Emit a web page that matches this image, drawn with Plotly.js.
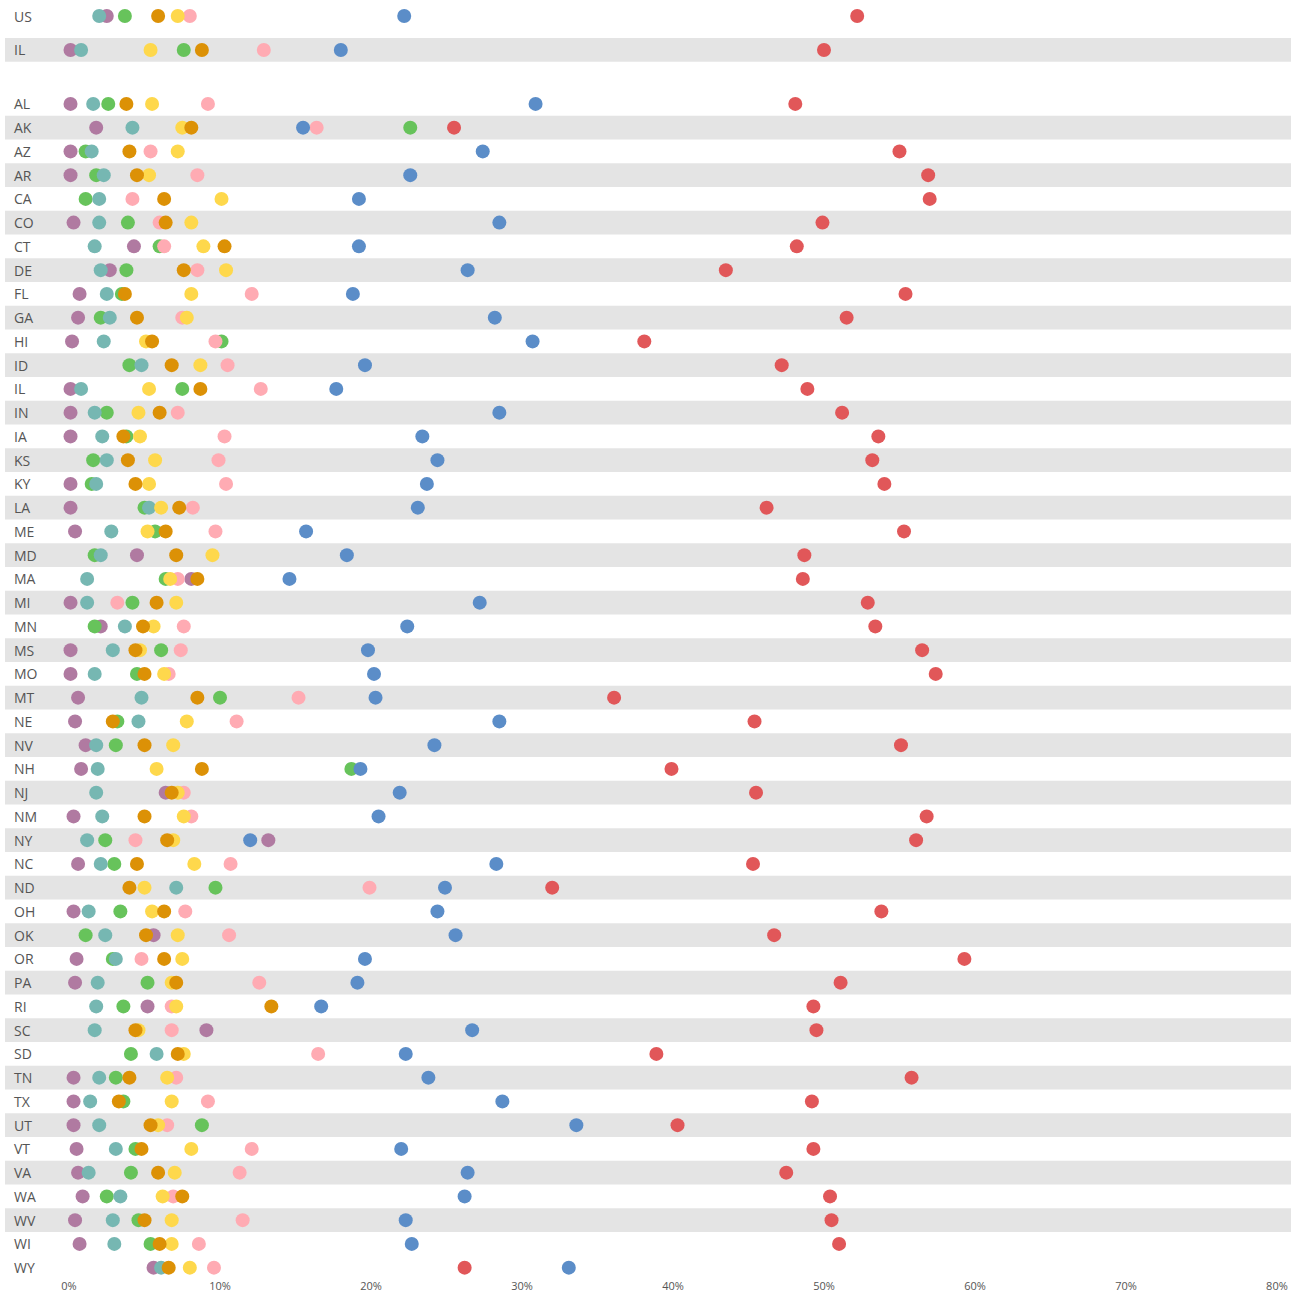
<!DOCTYPE html>
<html>
<head>
<meta charset="utf-8">
<script src="https://cdn.plot.ly/plotly-3.0.1.min.js"></script>
<style>html,body{margin:0;padding:0;background:#fff;}#chart{width:1291px;height:1296px;}</style>
</head>
<body>
<div id="chart"></div>
<script>
// ---- Data (percent values) ----
const states = ["US","IL","AL","AK","AZ","AR","CA","CO","CT","DE","FL","GA","HI","ID","IL","IN","IA","KS","KY","LA","ME","MD","MA","MI","MN","MS","MO","MT","NE","NV","NH","NJ","NM","NY","NC","ND","OH","OK","OR","PA","RI","SC","SD","TN","TX","UT","VT","VA","WA","WV","WI","WY"];

const seriesRed = [52.2,50.0,48.1,25.5,55.0,56.9,57.0,49.9,48.2,43.5,55.4,51.5,38.1,47.2,48.9,51.2,53.6,53.2,54.0,46.2,55.3,48.7,48.6,52.9,53.4,56.5,57.4,36.1,45.4,55.1,39.9,45.5,56.8,56.1,45.3,32.0,53.8,46.7,59.3,51.1,49.3,49.5,38.9,55.8,49.2,40.3,49.3,47.5,50.4,50.5,51.0,26.2];
const seriesBlue = [22.2,18.0,30.9,15.5,27.4,22.6,19.2,28.5,19.2,26.4,18.8,28.2,30.7,19.6,17.7,28.5,23.4,24.4,23.7,23.1,15.7,18.4,14.6,27.2,22.4,19.8,20.2,20.3,28.5,24.2,19.3,21.9,20.5,12.0,28.3,24.9,24.4,25.6,19.6,19.1,16.7,26.7,22.3,23.8,28.7,33.6,22.0,26.4,26.2,22.3,22.7,33.1];
const seriesPink = [8.0,12.9,9.2,16.4,5.4,8.5,4.2,6.0,6.3,8.5,12.1,7.5,9.7,10.5,12.7,7.2,10.3,9.9,10.4,8.2,9.7,null,7.2,3.2,7.6,7.4,6.6,15.2,11.1,null,null,7.6,8.1,4.4,10.7,19.9,7.7,10.6,4.8,12.6,6.8,6.8,16.5,7.1,9.2,6.5,12.1,11.3,6.9,11.5,8.6,9.6];
const seriesYellow = [7.2,5.4,5.5,7.5,7.2,5.3,10.1,8.1,8.9,10.4,8.1,7.8,5.1,8.7,5.3,4.6,4.7,5.7,5.3,6.1,5.2,9.5,6.7,7.1,5.6,4.7,6.3,null,7.8,6.9,5.8,7.2,7.6,6.9,8.3,5.0,5.5,7.2,7.5,6.8,7.1,4.6,7.6,6.5,6.8,5.9,8.1,7.0,6.2,6.8,6.8,8.0];
const seriesOrange = [5.9,8.8,3.8,8.1,4.0,4.5,6.3,6.4,10.3,7.6,3.7,4.5,5.5,6.8,8.7,6.0,3.6,3.9,4.4,7.3,6.4,7.1,8.5,5.8,4.9,4.4,5.0,8.5,2.9,5.0,8.8,6.8,5.0,6.5,4.5,4.0,6.3,5.1,6.3,7.1,13.4,4.4,7.2,4.0,3.3,5.4,4.8,5.9,7.5,5.0,6.0,6.6];
const seriesGreen = [3.7,7.6,2.6,22.6,1.1,1.8,1.1,3.9,6.0,3.8,3.5,2.1,10.1,4.0,7.5,2.5,3.8,1.6,1.5,5.0,5.7,1.7,6.4,4.2,1.7,6.1,4.5,10.0,3.2,3.1,18.7,null,null,2.4,3.0,9.7,3.4,1.1,2.9,5.2,3.6,null,4.1,3.1,3.6,8.8,4.4,4.1,2.5,4.6,5.4,null];
const seriesTeal = [2.0,0.8,1.6,4.2,1.5,2.3,2.0,2.0,1.7,2.1,2.5,2.7,2.3,4.8,0.8,1.7,2.2,2.5,1.8,5.3,2.8,2.1,1.2,1.2,3.7,2.9,1.7,4.8,4.6,1.8,1.9,1.8,2.2,1.2,2.1,7.1,1.3,2.4,3.1,1.9,1.8,1.7,5.8,2.0,1.4,2.0,3.1,1.3,3.4,2.9,3.0,6.1];
const seriesPurple = [2.5,0.1,0.1,1.8,0.1,0.1,null,0.3,4.3,2.7,0.7,0.6,0.2,null,0.1,0.1,0.1,null,0.1,0.1,0.4,4.5,8.1,0.1,2.1,0.1,0.1,0.6,0.4,1.1,0.8,6.4,0.3,13.2,0.6,null,0.3,5.6,0.5,0.4,5.2,9.1,null,0.3,0.3,0.3,0.5,0.6,0.9,0.4,0.7,5.6];

const tickValues = [0,10,20,30,40,50,60,70,80];

// ---- Layout helpers ----
// The two summary rows (US, IL) are separated from the state list by extra gaps (in row units).
const extraGapAfter = {0: 0.43, 1: 1.27};
const rowPos = [];
let acc = 0;
states.forEach((s, i) => {
  if (i > 0) acc += 1 + (extraGapAfter[i - 1] || 0);
  rowPos.push(acc);
});

const seriesList = [
  {name: "Purple", values: seriesPurple, color: "#b07aa1"},
  {name: "Green",  values: seriesGreen,  color: "#67c35b"},
  {name: "Teal",   values: seriesTeal,   color: "#76b7b2"},
  {name: "Pink",   values: seriesPink,   color: "#ffabb3"},
  {name: "Yellow", values: seriesYellow, color: "#fed84c"},
  {name: "Orange", values: seriesOrange, color: "#dc9106"},
  {name: "Blue",   values: seriesBlue,   color: "#5b8dc8"},
  {name: "Red",    values: seriesRed,    color: "#e15759"}
];

const traces = seriesList.map(s => ({
  type: "scatter",
  mode: "markers",
  name: s.name,
  x: s.values,
  y: rowPos,
  text: states,
  hovertemplate: "%{text}: %{x:.1f}%<extra>" + s.name + "</extra>",
  marker: {size: 14, color: s.color, line: {width: 0}},
  cliponaxis: false,
  showlegend: false
}));

const shapes = [];
rowPos.forEach((p, i) => {
  if (i % 2 === 1 && i < rowPos.length - 1) {
    shapes.push({
      type: "rect", layer: "below", xref: "paper", x0: 0, x1: 1,
      yref: "y", y0: p - 0.5, y1: p + 0.5,
      fillcolor: "#e4e4e4", line: {width: 0}
    });
  }
});

const annotations = states.map((s, i) => ({
  xref: "paper", x: 0.0055, xanchor: "left",
  yref: "y", y: rowPos[i], yanchor: "middle",
  text: s, showarrow: false,
  font: {family: "Open Sans, sans-serif", size: 14, color: "#555555"}
}));

const plotHeight = 1296 - 18;
const rowPx = 23.75;
const topPad = 16 / rowPx;
const layout = {
  width: 1291, height: 1296,
  margin: {l: 5, r: 0, t: 0, b: 18},
  paper_bgcolor: "#ffffff", plot_bgcolor: "rgba(0,0,0,0)",
  font: {family: "Open Sans, sans-serif", color: "#555555"},
  xaxis: {
    range: [-4.24, 80.93],
    tickvals: tickValues,
    ticktext: tickValues.map(v => v + "%"),
    showgrid: false, zeroline: false, showline: false, ticks: "",
    tickfont: {size: 11, color: "#555555"},
    fixedrange: true
  },
  yaxis: {
    range: [plotHeight / rowPx - topPad, -topPad],
    showgrid: false, zeroline: false, showline: false,
    showticklabels: false, ticks: "", fixedrange: true
  },
  shapes: shapes,
  annotations: annotations,
  hovermode: "closest",
  showlegend: false
};

Plotly.newPlot("chart", traces, layout, {displayModeBar: false});
</script>
</body>
</html>
